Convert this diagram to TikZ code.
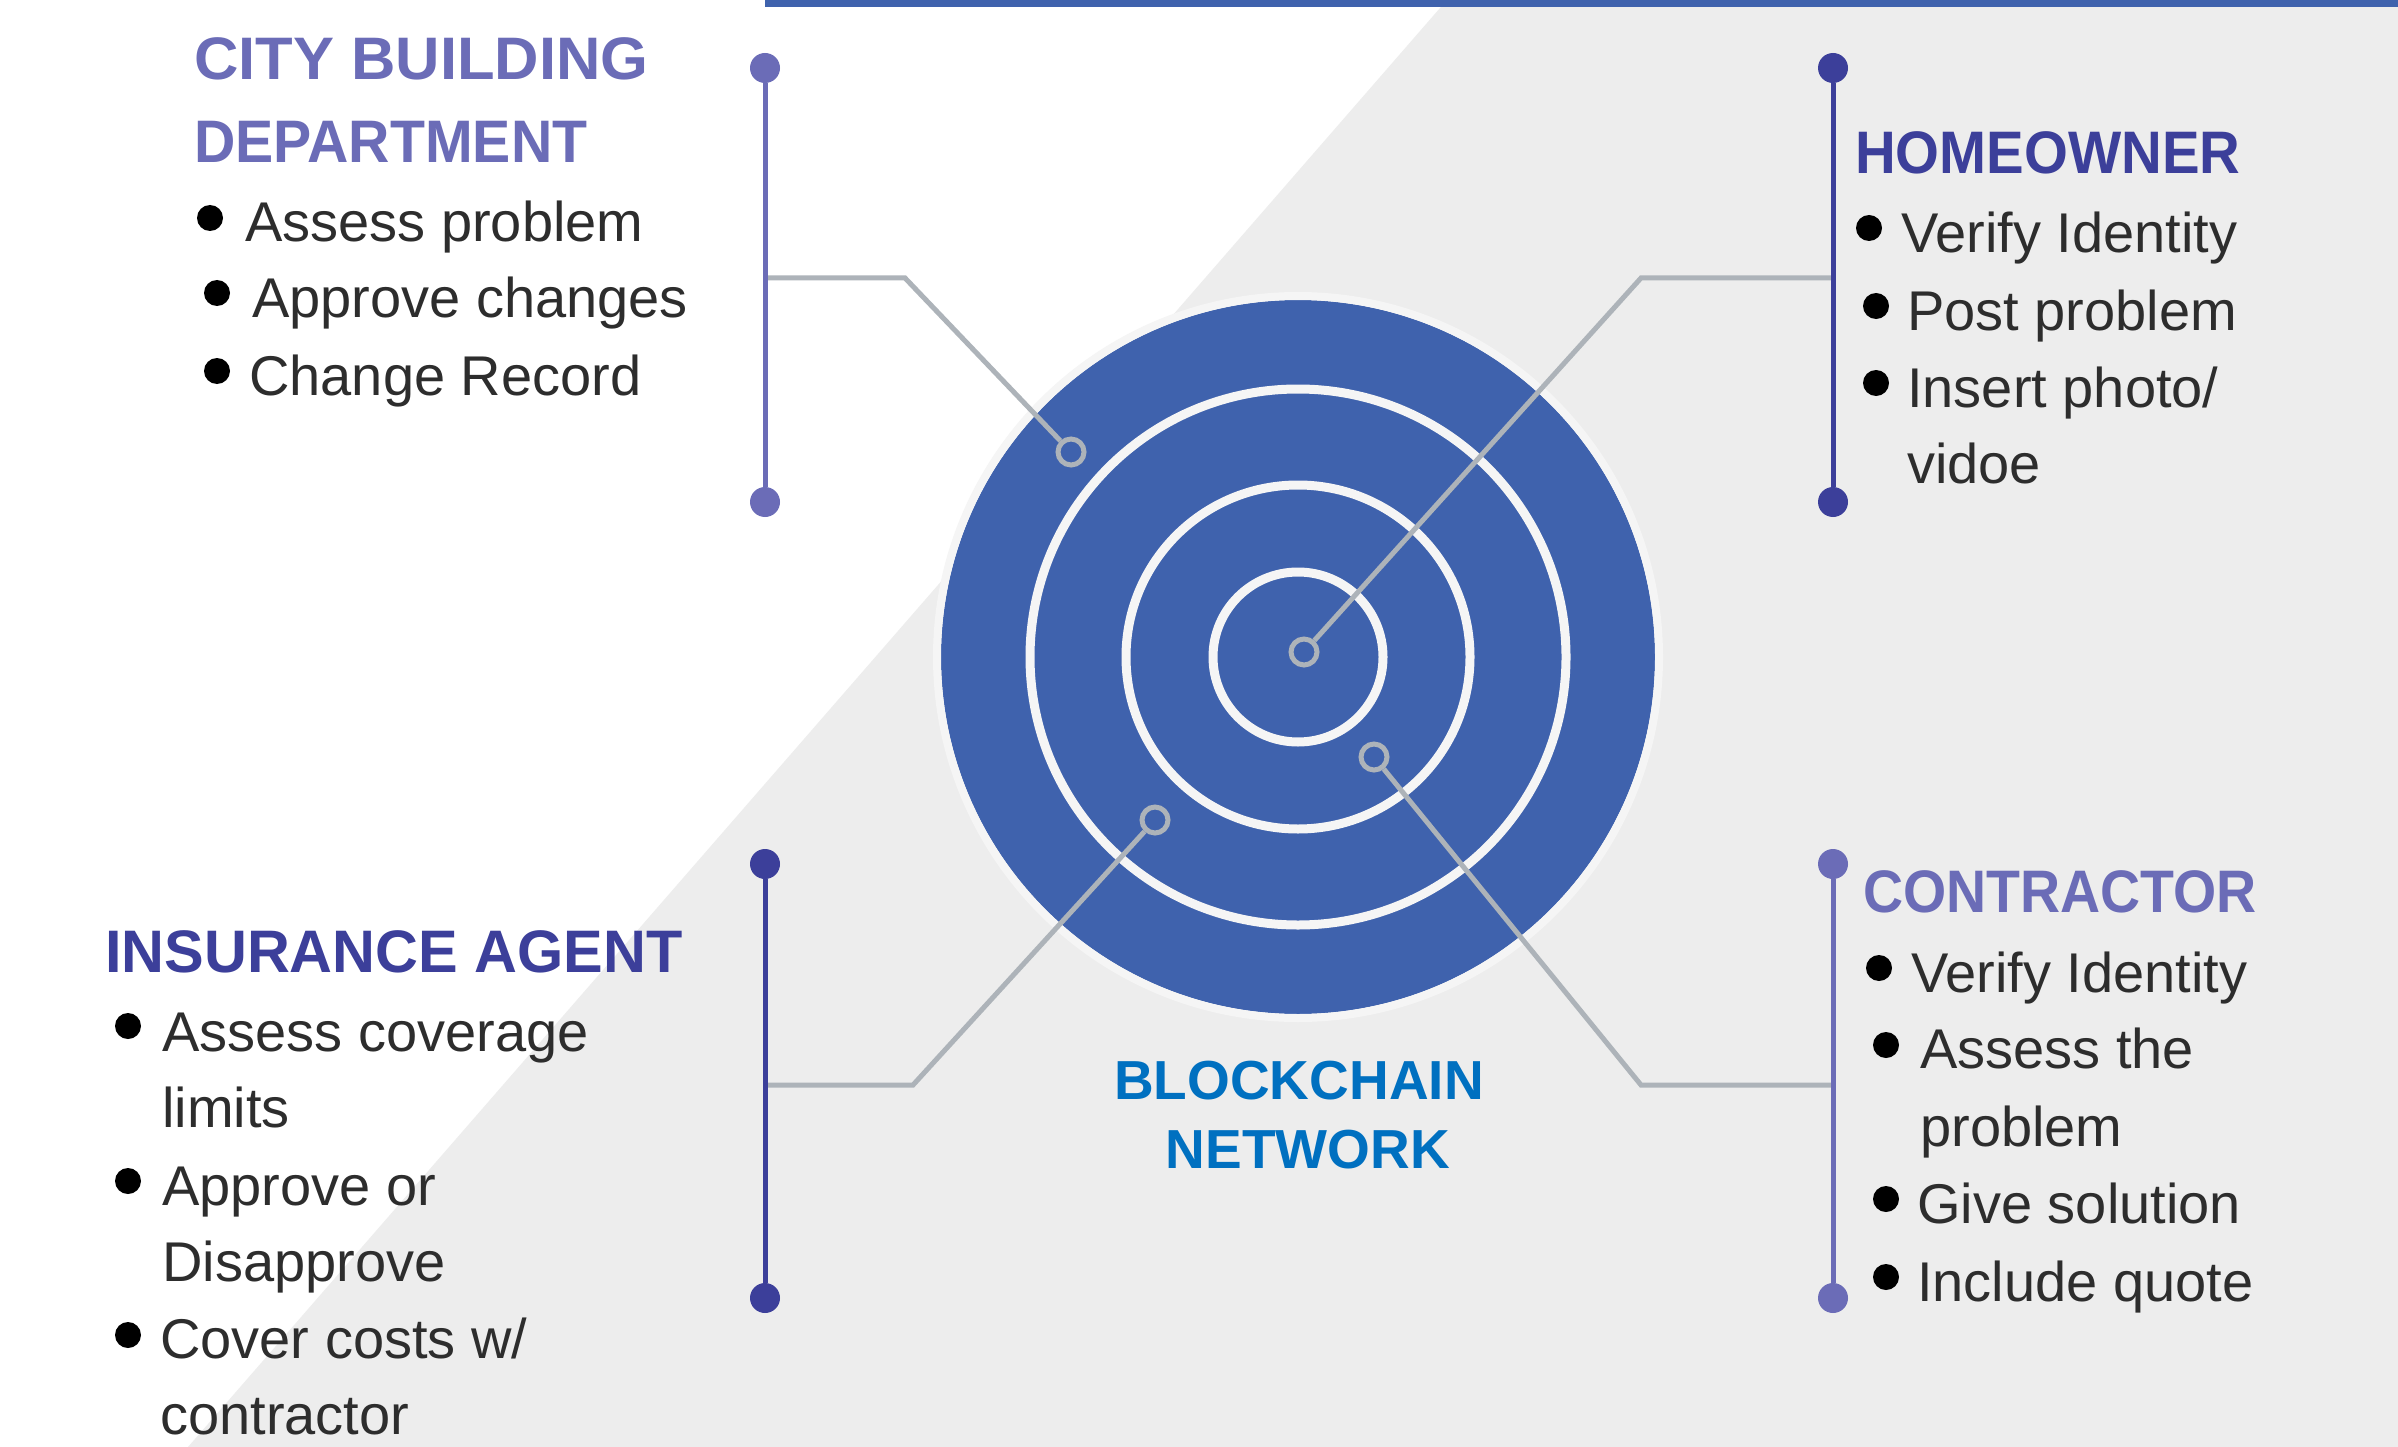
\documentclass[tikz,border=0pt]{standalone}
\usepackage{fontspec}
\setmainfont{Liberation Sans}
\definecolor{blueC}{HTML}{3F62AD}
\definecolor{ringW}{HTML}{F5F5F5}
\definecolor{bgG}{HTML}{EDEDED}
\definecolor{conG}{HTML}{ADB3B9}
\definecolor{purL}{HTML}{6B6CB7}
\definecolor{purD}{HTML}{3C3F9A}
\definecolor{txtC}{HTML}{2D2D2D}
\definecolor{netB}{HTML}{0070C0}
\begin{document}
\begin{tikzpicture}[x=1pt,y=-1pt,
  hd/.style={anchor=base west, inner sep=0pt, font=\fontsize{60}{80}\selectfont\bfseries},
  itm/.style={anchor=base west, inner sep=0pt, text=txtC, font=\fontsize{56}{77}\selectfont},
  net/.style={anchor=base, inner sep=0pt, text=netB, font=\fontsize{55}{69}\selectfont\bfseries},
  bul/.style={circle, fill=black, minimum size=26pt, inner sep=0pt},
  pin/.style={circle, minimum size=30pt, inner sep=0pt},
  ringnode/.style={circle, draw=conG, line width=5pt, fill=blueC, minimum size=26pt, inner sep=0pt},
  con/.style={draw=conG, line width=5pt, line join=miter},
  vline/.style={line width=5pt},
]
\useasboundingbox (0,0) rectangle (2398,1447);
% background
\fill[white] (0,0) rectangle (2398,1447);
\fill[bgG] (1447,0) -- (2398,0) -- (2398,1447) -- (188,1447) -- cycle;
\fill[blueC] (765,0) rectangle (2398,7);

% target
\fill[blueC] (1298,657) circle (357pt);
\draw[ringW, line width=8pt] (1298,657) circle (361pt);
\foreach \r in {268,172,85} \draw[ringW, line width=9pt] (1298,657) circle (\r pt);

% junction coordinates
\coordinate (cbdj) at (765,278);
\coordinate (cbdk) at (905,278);
\coordinate (hoj) at (1833,278);
\coordinate (hok) at (1641,278);
\coordinate (iaj) at (765,1085);
\coordinate (iak) at (913,1085);
\coordinate (coj) at (1833,1085);
\coordinate (cok) at (1641,1085);

% small rings
\node[ringnode] (s0) at (1304,652) {};
\node[ringnode] (s1) at (1071,452) {};
\node[ringnode] (s2) at (1374,757) {};
\node[ringnode] (s3) at (1155,820) {};

% connectors
\draw[con] (cbdj) -- (cbdk) -- (s1);
\draw[con] (hoj) -- (hok) -- (s0);
\draw[con] (iaj) -- (iak) -- (s3);
\draw[con] (coj) -- (cok) -- (s2);

% vertical lines with end dots
\node[pin, fill=purL] (cbdt) at (765,68) {};
\node[pin, fill=purL] (cbdb) at (765,502) {};
\draw[vline, purL] (cbdt) -- (cbdb);
\node[pin, fill=purD] (hot) at (1833,68) {};
\node[pin, fill=purD] (hob) at (1833,502) {};
\draw[vline, purD] (hot) -- (hob);
\node[pin, fill=purD] (iat) at (765,864) {};
\node[pin, fill=purD] (iab) at (765,1298) {};
\draw[vline, purD] (iat) -- (iab);
\node[pin, fill=purL] (cot) at (1833,864) {};
\node[pin, fill=purL] (cob) at (1833,1298) {};
\draw[vline, purL] (cot) -- (cob);

% City building department
\node[hd, text=purL] (cbdh1) at (194,80) {\scalebox{1.025}[1]{CITY BUILDING}};
\node[hd, text=purL] (cbdh2) at (194,163) {\scalebox{0.954}[1]{DEPARTMENT}};
\node[bul] (cb1) at (210,218) {};
\node[itm] (ct1) at (245,242) {Assess problem};
\node[bul] (cb2) at (217,293) {};
\node[itm] (ct2) at (252,317) {Approve changes};
\node[bul] (cb3) at (217,371) {};
\node[itm] (ct3) at (249,395) {Change Record};

% Homeowner
\node[hd, text=purD] (hoh) at (1855,174) {\scalebox{0.94}[1]{HOMEOWNER}};
\node[bul] (hb1) at (1869,228) {};
\node[itm] (ht1) at (1901,253) {Verify Identity};
\node[bul] (hb2) at (1876,306) {};
\node[itm] (ht2) at (1907,330) {Post problem};
\node[bul] (hb3) at (1876,383) {};
\node[itm] (ht3) at (1907,407) {Insert photo/};
\node[itm] (ht4) at (1907,483) {vidoe};

% Insurance agent
\node[hd, text=purD] (iah) at (105,972) {\scalebox{0.99}[1]{INSURANCE AGENT}};
\node[bul] (ib1) at (128,1026) {};
\node[itm] (it1) at (162,1051) {Assess coverage};
\node[itm] (it2) at (162,1127) {limits};
\node[bul] (ib2) at (128,1181) {};
\node[itm] (it3) at (162,1205) {Approve or};
\node[itm] (it4) at (162,1281) {Disapprove};
\node[bul] (ib3) at (128,1335) {};
\node[itm] (it5) at (160,1358) {Cover costs w/};
\node[itm] (it6) at (160,1434) {contractor};

% Contractor
\node[hd, text=purL] (coh) at (1863,912) {\scalebox{0.925}[1]{CONTRACTOR}};
\node[bul] (kb1) at (1879,968) {};
\node[itm] (kt1) at (1911,992) {Verify Identity};
\node[bul] (kb2) at (1886,1045) {};
\node[itm] (kt2) at (1920,1068) {Assess the};
\node[itm] (kt3) at (1920,1146) {problem};
\node[bul] (kb3) at (1886,1199) {};
\node[itm] (kt4) at (1917,1223) {Give solution};
\node[bul] (kb4) at (1886,1277) {};
\node[itm] (kt5) at (1917,1301) {Include quote};

% Blockchain label
\node[net] (bn1) at (1299,1099) {BLOCKCHAIN};
\node[net] (bn2) at (1308,1168) {NETWORK};
\end{tikzpicture}
\end{document}
